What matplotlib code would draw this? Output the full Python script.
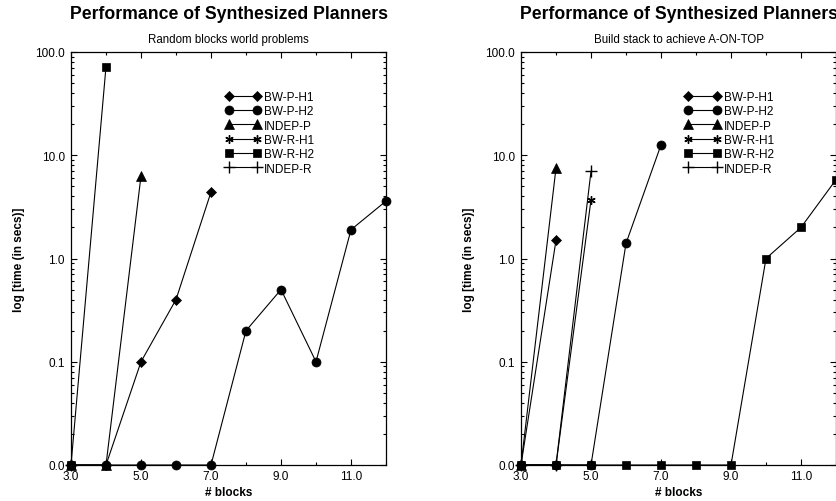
import matplotlib.pyplot as plt
from matplotlib.ticker import FixedLocator, LogLocator, NullFormatter

plt.rcParams['font.family'] = ['Liberation Sans', 'DejaVu Sans']

# values below 0.1 s were plotted on the 0.0 floor (0.01 on the log axis)
series_names = ["BW-P-H1", "BW-P-H2", "INDEP-P", "BW-R-H1", "BW-R-H2", "INDEP-R"]
series_markers = ["D", "o", "^", (6, 2, 0), "s", "+"]

# panel 1: random blocks world problems
rand_x = {
    "BW-P-H1": [3, 4, 5, 6, 7],
    "BW-P-H2": [3, 4, 5, 6, 7, 8, 9, 10, 11, 12],
    "INDEP-P": [3, 4, 5],
    "BW-R-H1": [3],
    "BW-R-H2": [3, 4],
    "INDEP-R": [3],
}
rand_y = {
    "BW-P-H1": [0.01, 0.01, 0.1, 0.4, 4.4],
    "BW-P-H2": [0.01, 0.01, 0.01, 0.01, 0.01, 0.2, 0.5, 0.1, 1.9, 3.6],
    "INDEP-P": [0.01, 0.01, 6.3],
    "BW-R-H1": [0.01],
    "BW-R-H2": [0.01, 72.0],
    "INDEP-R": [0.01],
}

# panel 2: build stack to achieve A-ON-TOP
stack_x = {
    "BW-P-H1": [3, 4],
    "BW-P-H2": [3, 4, 5, 6, 7],
    "INDEP-P": [3, 4],
    "BW-R-H1": [3, 4, 5],
    "BW-R-H2": [3, 4, 5, 6, 7, 8, 9, 10, 11, 12],
    "INDEP-R": [3, 4, 5],
}
stack_y = {
    "BW-P-H1": [0.01, 1.5],
    "BW-P-H2": [0.01, 0.01, 0.01, 1.4, 12.6],
    "INDEP-P": [0.01, 7.5],
    "BW-R-H1": [0.01, 0.01, 3.7],
    "BW-R-H2": [0.01, 0.01, 0.01, 0.01, 0.01, 0.01, 0.01, 1.0, 2.0, 5.8],
    "INDEP-R": [0.01, 0.01, 7.0],
}

y_ticks = [0.01, 0.1, 1, 10, 100]
y_ticklabels = ["0.0", "0.1", "1.0", "10.0", "100.0"]
x_ticks = [3, 5, 7, 9, 11]
x_ticklabels = ["3.0", "5.0", "7.0", "9.0", "11.0"]

marker_sizes = [5, 6.5, 6.5, 6, 6, 8]

fig = plt.figure(figsize=(8.36, 5.02), dpi=100)

panels = [
    (rand_x, rand_y, "Random blocks world problems", 71, 0.49),
    (stack_x, stack_y, "Build stack to achieve A-ON-TOP", 521, 0.52),
]

for xs, ys, subtitle, left_px, leg_x in panels:
    ax = fig.add_axes([left_px / 836, 36 / 502, 315 / 836, 413 / 502])
    for name, mk, ms in zip(series_names, series_markers, marker_sizes):
        thin = mk == "+" or isinstance(mk, tuple)
        ax.plot(xs[name], ys[name], color='black', lw=0.8, marker=mk,
                ms=ms, mew=1.0 if thin else 0.5,
                label=name, clip_on=False, zorder=3)

    ax.set_yscale('log')
    ax.set_xlim(3, 12)
    ax.set_ylim(0.01, 100)
    ax.yaxis.set_major_locator(FixedLocator(y_ticks))
    ax.set_yticklabels(y_ticklabels)
    ax.yaxis.set_minor_locator(LogLocator(base=10, subs=range(2, 10)))
    ax.yaxis.set_minor_formatter(NullFormatter())
    ax.set_xticks(x_ticks)
    ax.set_xticklabels(x_ticklabels)
    ax.set_xticks([4, 6, 8, 10, 12], minor=True)
    ax.tick_params(which='both', direction='in', top=True, right=True,
                   labelsize=8.5, width=0.8)
    ax.tick_params(axis='x', pad=3.5)
    ax.tick_params(axis='y', pad=4.5)
    ax.tick_params(which='major', length=4)
    ax.tick_params(which='minor', length=2.5)
    for sp in ax.spines.values():
        sp.set_linewidth(0.9)

    ax.set_xlabel("# blocks", fontsize=8.5, fontweight='bold')
    ax.xaxis.set_label_coords(0.5, -0.05)
    ax.set_ylabel("log [time (in secs)]", fontsize=8.5, fontweight='bold')
    ax.yaxis.set_label_coords(-0.145, 0.5)

    ax.text(0.5, 1.094, "Performance of Synthesized Planners", transform=ax.transAxes,
            ha='center', va='center', fontsize=12.7, fontweight='bold')
    ax.text(0.5, 1.031, subtitle, transform=ax.transAxes,
            ha='center', va='center', fontsize=8.3)

    ax.legend(loc='upper left', bbox_to_anchor=(leg_x, 0.906), frameon=False,
              fontsize=8.5, numpoints=2, handlelength=3.0, handletextpad=0.3,
              labelspacing=0.2, borderpad=0, borderaxespad=0)

fig.savefig("out.png", dpi=100)
